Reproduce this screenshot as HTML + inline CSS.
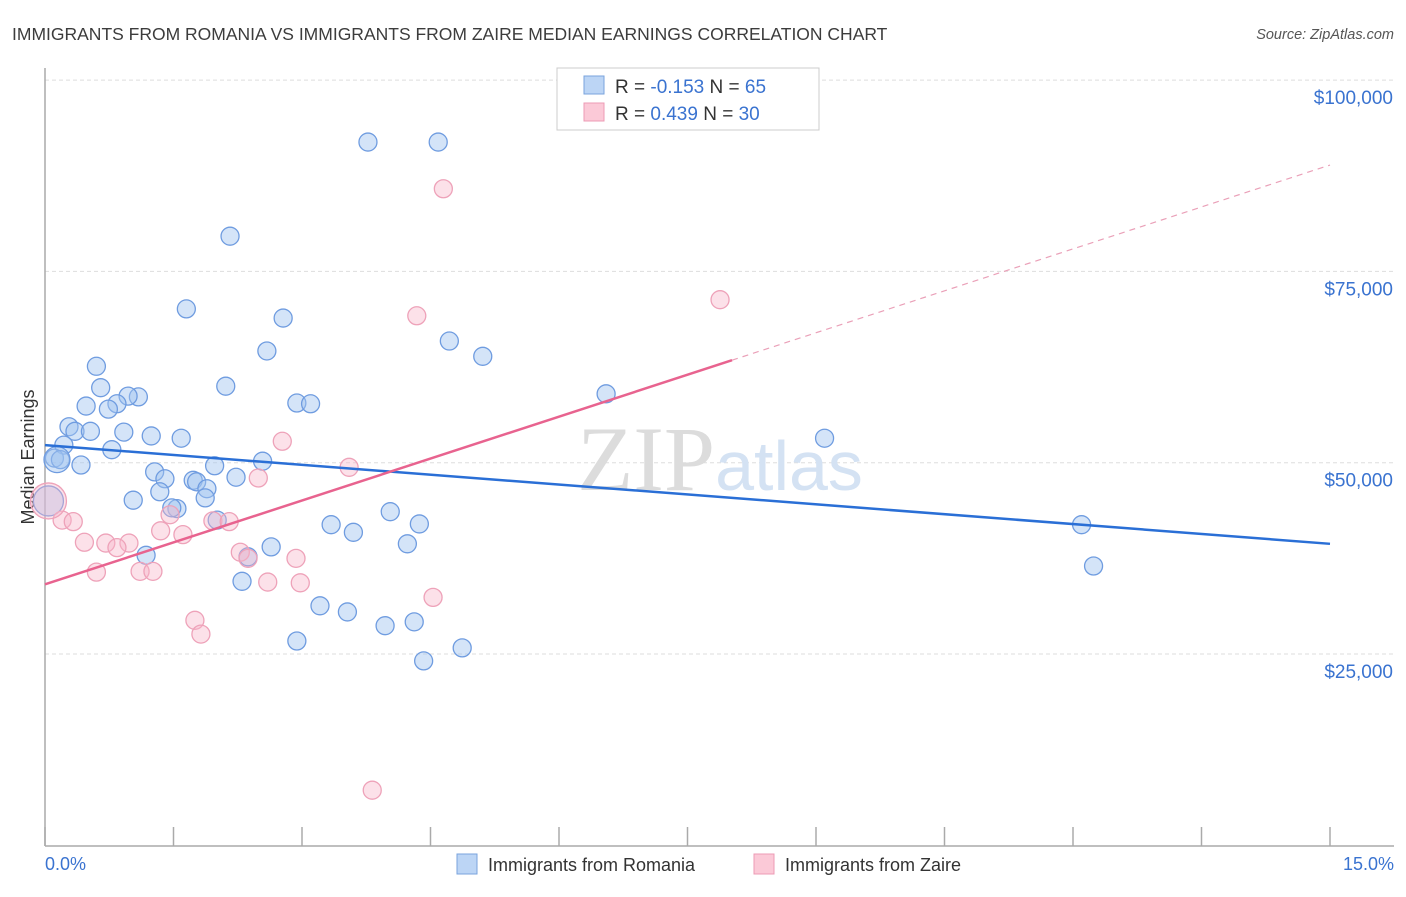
<!DOCTYPE html>
<html><head><meta charset="utf-8"><style>
body{margin:0;background:#fff;font-family:"Liberation Sans",sans-serif}
svg text{font-family:"Liberation Sans",sans-serif}
</style></head><body>
<svg width="1406" height="892" xmlns="http://www.w3.org/2000/svg">
<text x="12" y="40" font-size="17.5" fill="#3c3c3c">IMMIGRANTS FROM ROMANIA VS IMMIGRANTS FROM ZAIRE MEDIAN EARNINGS CORRELATION CHART</text>
<text x="1394" y="39" font-size="14.5" fill="#555" text-anchor="end" font-style="italic">Source: ZipAtlas.com</text>
<g id="grid"></g>
<text x="720" y="490" font-size="92" fill="#e6e6e6" text-anchor="middle" font-family="Liberation Serif"><tspan fill="#dcdcdc" font-family="Liberation Serif">ZIP</tspan><tspan fill="#d4e2f3" font-family="Liberation Sans" font-size="70">atlas</tspan></text>
<text transform="translate(34,457) rotate(-90)" font-size="18" fill="#333" text-anchor="middle">Median Earnings</text>
<g id="lines"></g>
<g id="pts"></g>
<rect x="557" y="68" width="262" height="62" fill="#fff" stroke="#ccc"/>
<rect x="584" y="76" width="20" height="18" fill="#bcd5f5" stroke="#7aa3dd"/>
<rect x="584" y="103" width="20" height="18" fill="#fbc9d7" stroke="#ec9bb4"/>
<text x="615" y="93" font-size="19" fill="#333">R = <tspan fill="#3a73d0">-0.153</tspan>   N = <tspan fill="#3a73d0">65</tspan></text>
<text x="615" y="120" font-size="19" fill="#333">R =  <tspan fill="#3a73d0">0.439</tspan>   N = <tspan fill="#3a73d0">30</tspan></text>
<text x="45" y="870" font-size="18" fill="#3a73d0">0.0%</text>
<text x="1394" y="870" font-size="18" fill="#3a73d0" text-anchor="end">15.0%</text>
<rect x="457" y="854" width="20" height="20" fill="#bcd5f5" stroke="#7aa3dd"/>
<text x="488" y="871" font-size="18" fill="#333">Immigrants from Romania</text>
<rect x="754" y="854" width="20" height="20" fill="#fbc9d7" stroke="#ec9bb4"/>
<text x="785" y="871" font-size="18" fill="#333">Immigrants from Zaire</text>
</svg>
<script>
const yTicks=[25000,50000,75000,100000];
const yTickLabels=["$25,000","$50,000","$75,000","$100,000"];
const xTicks=[0,1.5,3,4.5,6,7.5,9,10.5,12,13.5,15];
const blueX=[3.77,4.59,2.16,1.65,2.78,4.72,5.11,2.59,0.60,2.11,0.65,6.55,1.09,0.97,0.84,0.48,0.74,2.94,3.10,0.28,0.35,0.53,0.92,1.24,1.59,9.10,0.22,0.78,0.11,0.18,2.54,0.42,1.98,1.28,1.40,2.23,1.73,1.77,1.89,1.34,1.87,1.03,1.54,1.48,2.01,4.03,3.34,4.37,3.60,12.10,1.18,2.64,4.23,2.37,12.24,2.30,3.21,3.53,3.97,4.31,2.94,4.87,4.42,0.14,0.04];
const blueY=[91900,91900,79600,70100,68900,65900,63900,64600,62600,60000,59800,59000,58600,58700,57700,57400,57000,57800,57700,54700,54100,54100,54000,53500,53200,53200,52300,51700,50600,50400,50200,49700,49600,48800,47900,48100,47700,47500,46600,46200,45400,45100,44000,44100,42500,43600,41900,42000,40900,41900,37900,39000,39400,37700,36500,34500,31300,30500,28700,29200,26700,25800,24100,50400,45000];
const blueR=[9,9,9,9,9,9,9,9,9,9,9,9,9,9,9,9,9,9,9,9,9,9,9,9,9,9,9,9,9,9,9,9,9,9,9,9,9,9,9,9,9,9,9,9,9,9,9,9,9,9,9,9,9,9,9,9,9,9,9,9,9,9,9,13,15];
const pinkX=[4.65,4.34,7.88,2.77,3.55,2.49,0.20,0.33,0.46,0.71,0.98,0.84,0.60,1.35,1.46,1.61,1.96,2.15,2.28,2.37,2.93,2.60,2.98,1.11,1.26,1.75,1.82,4.53,3.82,0.04];
const pinkY=[85800,69200,71300,52800,49400,48000,42500,42300,39600,39500,39500,38900,35700,41100,43200,40600,42400,42300,38300,37500,37500,34400,34300,35800,35800,29400,27600,32400,7200,45000];
const pinkR=[9,9,9,9,9,9,9,9,9,9,9,9,9,9,9,9,9,9,9,9,9,9,9,9,9,9,9,9,9,18];
const blueTrend=[52300,39400];
const pinkTrend=[34100,88900];
const pinkSolidEnd=8.02;
const NS="http://www.w3.org/2000/svg";
function X(p){return 45+p/15*1285;}
function Y(v){return 654-(v-25000)*191.3/25000;}
function mk(t,a,parent){const e=document.createElementNS(NS,t);for(const k in a)e.setAttribute(k,a[k]);parent.appendChild(e);return e;}
const grid=document.getElementById('grid');
yTicks.forEach((v,i)=>{
 const l=mk('line',{x1:45,x2:1394,y1:Y(v),y2:Y(v),stroke:'#ddd','stroke-dasharray':'4,3'},grid);
 
 
 const t=mk('text',{x:1393,y:Y(v)+24,'font-size':19,fill:'#3a73d0','text-anchor':'end'},grid);
 t.textContent=yTickLabels[i];
 
 
});
const ax=mk('line',{x1:45,x2:45,y1:68,y2:846,stroke:'#aaa','stroke-width':1.5},grid);


const bx=mk('line',{x1:45,x2:1394,y1:846,y2:846,stroke:'#aaa','stroke-width':1.5},grid);


xTicks.forEach(p=>{
 const l=mk('line',{x1:X(p),x2:X(p),y1:827,y2:846,stroke:'#aaa','stroke-width':1.5},grid);
 
 
});
const lines=document.getElementById('lines');
const pts=document.getElementById('pts');
blueX.forEach((p,i)=>{
 const c=mk('circle',{cx:X(p),cy:Y(blueY[i]),r:blueR[i],fill:'rgba(160,195,240,0.45)',stroke:'#6f9ce0','stroke-width':1.3},pts);
 
 
});
pinkX.forEach((p,i)=>{
 const c=mk('circle',{cx:X(p),cy:Y(pinkY[i]),r:pinkR[i],fill:'rgba(248,180,200,0.4)',stroke:'#eea2b9','stroke-width':1.3},pts);
 
 
});
const bl=mk('line',{x1:X(0),y1:Y(blueTrend[0]),x2:X(15),y2:Y(blueTrend[1]),stroke:'#2a6fd6','stroke-width':2.5},pts);


const pv=t=>pinkTrend[0]+(pinkTrend[1]-pinkTrend[0])*t/15;
const pl=mk('line',{x1:X(0),y1:Y(pv(0)),x2:X(pinkSolidEnd),y2:Y(pv(pinkSolidEnd)),stroke:'#e8638f','stroke-width':2.5},pts);


const pd=mk('line',{x1:X(pinkSolidEnd),y1:Y(pv(pinkSolidEnd)),x2:X(15),y2:Y(pv(15)),stroke:'#eaa0b8','stroke-width':1.2,'stroke-dasharray':'6,5'},pts);


</script>
</body></html>
